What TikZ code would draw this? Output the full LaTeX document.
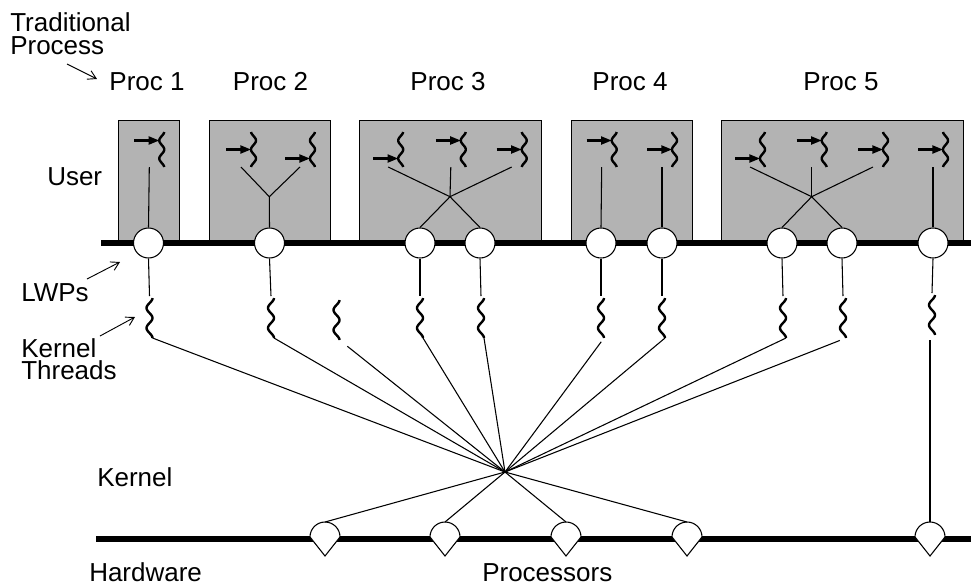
\documentclass[tikz,border=0pt]{standalone}
\usepackage{fontspec}
\setmainfont{Liberation Sans}
\usetikzlibrary{arrows.meta}
\definecolor{boxgray}{RGB}{179,179,179}
\tikzset{
  procbox/.style={draw=black,line width=0.75pt,fill=boxgray},
  busline/.style={line width=4pt},
  lwp/.style={circle,draw,fill=white,line width=0.8pt,minimum size=22.5pt,inner sep=0pt},
  link/.style={line width=0.8pt},
  squig/.style={line width=1.8pt},
  tharrow/.style={line width=1.6pt,-{Triangle[length=8pt,width=6pt]}},
  callout/.style={line width=0.7pt,-{Straight Barb[length=6pt,width=7pt]}},
  lbl/.style={inner sep=0pt,font=\fontsize{19.5}{17}\selectfont},
  pics/uthr/.style={code={
    \begin{scope}[yscale=-1]
    \draw[squig] plot[domain=-17.5:17.5,samples=36,variable=\t,smooth] ({-2.5*cos(20*(\t-(#1)))},{\t});
    \draw[tharrow] (-27.5,#1) -- (-2.5,#1);
    \coordinate (-t) at (-12.5,17.5);
    \end{scope}
  }},
  pics/kthr/.style={code={
    \begin{scope}[yscale=-1]
    \draw[squig] plot[domain=-20:20,samples=40,variable=\t,smooth] ({3*cos(18*(\t+20))},{\t});
    \coordinate (-n) at (0,-22);
    \coordinate (-s) at (3,20);
    \end{scope}
  }},
  pics/cpu/.style={code={
    \begin{scope}[yscale=-1]
    \draw[line width=0.8pt,fill=white] (-15,0) arc[start angle=180,end angle=360,radius=15] -- (0,19) -- cycle;
    \coordinate (-n) at (0,-15);
    \end{scope}
  }},
}
\begin{document}
\begin{tikzpicture}[x=0.75pt,y=0.75pt,yscale=-1,xscale=1]
\useasboundingbox (0,0) rectangle (971,587);

%Shape: Rectangle [process boxes]
\draw[procbox] (118,120) rectangle (179,243);
\draw[procbox] (209,120) rectangle (330,243);
\draw[procbox] (359,120) rectangle (541,243);
\draw[procbox] (571,120) rectangle (692,243);
\draw[procbox] (721,120) rectangle (963,243);
%Straight Lines [user bus]
\draw[busline] (101,243) -- (971,243);

%Shape: user threads
\pic (u1) at (161.8,149.5) {uthr=-9};
\pic (u2a) at (253.5,149.5) {uthr=0};
\pic (u2b) at (312.5,149.5) {uthr=9};
\pic (u3a) at (400.7,149.5) {uthr=9};
\pic (u3b) at (463.3,149.5) {uthr=-9};
\pic (u3c) at (524.2,149.5) {uthr=0};
\pic (u4a) at (614.2,149.5) {uthr=-9};
\pic (u4b) at (674.5,149.5) {uthr=0};
\pic (u5a) at (762.5,149.5) {uthr=9};
\pic (u5b) at (824.2,149.5) {uthr=-9};
\pic (u5c) at (885.5,149.5) {uthr=0};
\pic (u5d) at (945.5,149.5) {uthr=0};
\coordinate (j2) at (269.3,196.7);
\coordinate (j3) at (450,196.7);
\coordinate (j5) at (811.7,196.7);

%Straight Lines [threads to junctions]
\draw[link] (u2a-t) -- (j2) -- (u2b-t);
\draw[link] (u3a-t) -- (j3);
\draw[link] (u3b-t) -- (j3);
\draw[link] (u3c-t) -- (j3);
\draw[link] (u5a-t) -- (j5);
\draw[link] (u5b-t) -- (j5);
\draw[link] (u5c-t) -- (j5);

%Shape: Circle [LWPs]
\node[lwp] (l1) at (148.5,243) {};
\node[lwp] (l2) at (269.5,243) {};
\node[lwp] (l3a) at (420,243) {};
\node[lwp] (l3b) at (480,243) {};
\node[lwp] (l4a) at (601,243) {};
\node[lwp] (l4b) at (662,243) {};
\node[lwp] (l5a) at (782,243) {};
\node[lwp] (l5b) at (842,243) {};
\node[lwp] (l5c) at (933,243) {};

%Straight Lines [threads to LWPs]
\draw[link] (u1-t) -- (l1.north);
\draw[link] (j2) -- (l2.north);
\draw[link] (j3) -- (l3a.north);
\draw[link] (j3) -- (l3b.north);
\draw[link] (u4a-t) -- (l4a.north);
\draw[link] (u4b-t) -- (l4b.north);
\draw[link] (j5) -- (l5a.north);
\draw[link] (j5) -- (l5b.north);
\draw[link] (u5d-t) -- (l5c.north);

%Shape: kernel threads
\pic (k1) at (149.5,318) {kthr};
\pic (k2) at (271,318) {kthr};
\pic (k3) at (336.5,320) {kthr};
\pic (k4) at (420,318) {kthr};
\pic (k5) at (481,318) {kthr};
\pic (k6) at (601,318) {kthr};
\pic (k7) at (662,318) {kthr};
\pic (k8) at (783,318) {kthr};
\pic (k9) at (843,318) {kthr};
\pic (k10) at (932,315) {kthr};

%Straight Lines [LWPs to kernel threads]
\draw[link] (l1.south) -- (k1-n);
\draw[link] (l2.south) -- (k2-n);
\draw[link] (l3a.south) -- (k4-n);
\draw[link] (l3b.south) -- (k5-n);
\draw[link] (l4a.south) -- (k6-n);
\draw[link] (l4b.south) -- (k7-n);
\draw[link] (l5a.south) -- (k8-n);
\draw[link] (l5b.south) -- (k9-n);
\draw[link] (l5c.south) -- (k10-n);

%Straight Lines [processor bus]
\draw[busline] (96,539) -- (971,539);

%Shape: processors
\coordinate (hub) at (505,472);
\pic (p1) at (325,537) {cpu};
\pic (p2) at (445,537) {cpu};
\pic (p3) at (566,537) {cpu};
\pic (p4) at (687,537) {cpu};
\pic (p5) at (930,537) {cpu};

%Straight Lines [kernel threads to hub]
\draw[link] (k1-s) -- (hub);
\draw[link] (k2-s) -- (hub);
\draw[link,shorten <=7.5pt] (k3-s) -- (hub);
\draw[link] (k4-s) -- (hub);
\draw[link] (k5-s) -- (hub);
\draw[link,shorten <=3.5pt] (k6-s) -- (hub);
\draw[link] (k7-s) -- (hub);
\draw[link] (k8-s) -- (hub);
\draw[link,shorten <=5pt] (k9-s) -- (hub);
\draw[link] (hub) -- (p1-n);
\draw[link] (hub) -- (p2-n);
\draw[link] (hub) -- (p3-n);
\draw[link] (hub) -- (p4-n);
\draw[link,shorten <=4pt] (k10-s -| p5-n) -- (p5-n);

%Straight Lines [label arrows]
\coordinate (tradA) at (67,64);
\coordinate (tradB) at (97,79);
\coordinate (lwpA) at (87,279);
\coordinate (lwpB) at (120,262);
\coordinate (kthA) at (100,336);
\coordinate (kthB) at (135,317);
\draw[callout] (tradA) -- (tradB);
\draw[callout] (lwpA) -- (lwpB);
\draw[callout] (kthA) -- (kthB);

% Text Node
\draw (10,12.7) node[lbl,anchor=north west,align=left] (trad) {Traditional\\Process};
% Text Node
\draw (147,90) node[lbl,anchor=base] (pr1) {Proc 1};
% Text Node
\draw (270.5,90) node[lbl,anchor=base] (pr2) {Proc 2};
% Text Node
\draw (448,90) node[lbl,anchor=base] (pr3) {Proc 3};
% Text Node
\draw (630,90) node[lbl,anchor=base] (pr4) {Proc 4};
% Text Node
\draw (841,90) node[lbl,anchor=base] (pr5) {Proc 5};
% Text Node
\draw (47,185) node[lbl,anchor=base west] (user) {User};
% Text Node
\draw (21,301) node[lbl,anchor=base west] (lwps) {LWPs};
% Text Node
\draw (21,338) node[lbl,anchor=north west,align=left] (kthreads) {Kernel\\Threads};
% Text Node
\draw (97,486) node[lbl,anchor=base west] (kernel) {Kernel};
% Text Node
\draw (89,581) node[lbl,anchor=base west] (hw) {Hardware};
% Text Node
\draw (482,581.5) node[lbl,anchor=base west] (procs) {Processors};

\end{tikzpicture}
\end{document}
